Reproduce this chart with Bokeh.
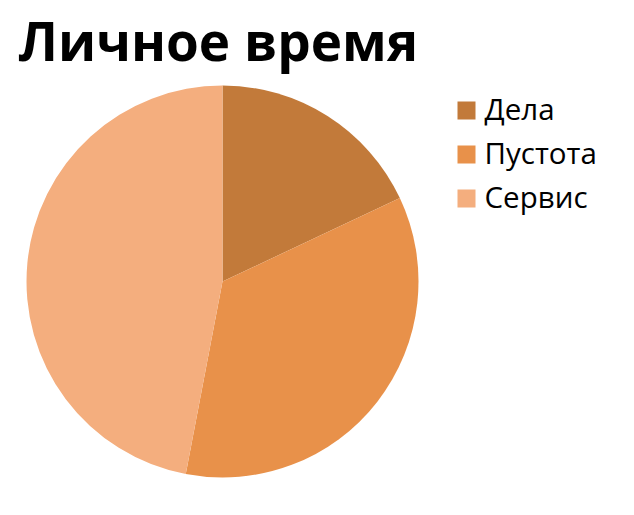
import numpy as np
from bokeh.plotting import figure
from bokeh.models import Range1d, ColumnDataSource
from bokeh.core.properties import value
from bokeh.embed import file_html
from bokeh.resources import INLINE

title = "Личное время"
categories = ["Дела", "Пустота", "Сервис"]
values = [18, 35, 47]
colors = ["#C27A3A", "#E8914A", "#F4AE7E"]

W, H = 618, 499
p = figure(width=W, height=H, output_backend="svg", toolbar_location=None,
           x_range=Range1d(0, W), y_range=Range1d(515 - H, 515),
           min_border=0)
p.axis.visible = False
p.grid.visible = False
p.outline_line_color = None
p.background_fill_color = "white"

cx, cy, r = 222, 515 - 281, 196
vals = np.array(values, dtype=float)
frac = vals / vals.sum()
cum = np.concatenate([[0], np.cumsum(frac)])
# clockwise from top
start = np.pi / 2 - cum[1:] * 2 * np.pi
end = np.pi / 2 - cum[:-1] * 2 * np.pi
src = ColumnDataSource(dict(start=start, end=end, color=colors, cat=categories))
p.wedge(x=cx, y=cy, radius=r, start_angle="start", end_angle="end",
        fill_color="color", line_color=None, source=src)

p.text(x=[18], y=[515 - 40], text=[title], text_font=value("Open Sans"),
       text_font_style="bold", text_font_size="53px", text_baseline="middle",
       text_color="black")

ly = [515 - (110 + 44 * i) for i in range(len(categories))]
ty = [515 - (108 + 44 * i) for i in range(len(categories))]
lsrc = ColumnDataSource(dict(y=ly, ty=ty, color=colors, cat=categories))
p.rect(x=466, y="y", width=18, height=18, fill_color="color", line_color=None, source=lsrc)
p.text(x=484, y="ty", text="cat", text_font=value("Open Sans"), text_font_size="29.5px",
       text_baseline="middle", text_color="black", source=lsrc)

open("out.html", "w").write(file_html(p, INLINE))
